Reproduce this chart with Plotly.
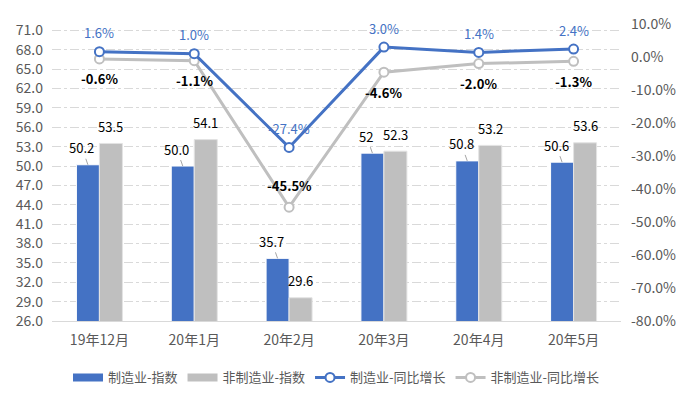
import plotly.graph_objects as go

categories = ["19年12月", "20年1月", "20年2月", "20年3月", "20年4月", "20年5月"]
mfg_index = [50.2, 50.0, 35.7, 52.0, 50.8, 50.6]
mfg_index_labels = ["50.2", "50.0", "35.7", "52", "50.8", "50.6"]
nonmfg_index = [53.5, 54.1, 29.6, 52.3, 53.2, 53.6]
mfg_yoy = [1.6, 1.0, -27.4, 3.0, 1.4, 2.4]
nonmfg_yoy = [-0.6, -1.1, -45.5, -4.6, -2.0, -1.3]
left_ticks = [26 + 3 * i for i in range(16)]
right_ticks = [-80 + 10 * i for i in range(10)]

BLUE = "#4472C4"
GRAY = "#BFBFBF"
FONT = "Noto Sans CJK SC"
TICK = "#595959"
FS = 13
TFS = 14

fig = go.Figure()
fig.add_trace(go.Bar(x=categories, y=mfg_index, name="制造业-指数", showlegend=False,
                     marker=dict(color=BLUE, line=dict(color="#FFFFFF", width=1))))
fig.add_trace(go.Bar(x=categories, y=nonmfg_index, name="非制造业-指数", showlegend=False,
                     marker=dict(color=GRAY, line=dict(color="#E3E3E3", width=1))))
fig.add_trace(go.Scatter(x=categories, y=nonmfg_yoy, name="非制造业-同比增长", yaxis="y2",
                         mode="lines+markers", line=dict(color=GRAY, width=3),
                         marker=dict(size=9, color="white", line=dict(color=GRAY, width=2)),
                         showlegend=False))
fig.add_trace(go.Scatter(x=categories, y=mfg_yoy, name="制造业-同比增长", yaxis="y2",
                         mode="lines+markers", line=dict(color=BLUE, width=3),
                         marker=dict(size=9, color="white", line=dict(color=BLUE, width=2)),
                         showlegend=False))

# legend entries (in reference order)
fig.add_trace(go.Scatter(x=[None], y=[None], name="制造业-指数", mode="lines",
                         line=dict(color=BLUE, width=8)))
fig.add_trace(go.Scatter(x=[None], y=[None], name="非制造业-指数", mode="lines",
                         line=dict(color=GRAY, width=8)))
fig.add_trace(go.Scatter(x=[None], y=[None], name="制造业-同比增长", yaxis="y2",
                         mode="lines+markers", line=dict(color=BLUE, width=3),
                         marker=dict(size=9, color="white", line=dict(color=BLUE, width=2))))
fig.add_trace(go.Scatter(x=[None], y=[None], name="非制造业-同比增长", yaxis="y2",
                         mode="lines+markers", line=dict(color=GRAY, width=3),
                         marker=dict(size=9, color="white", line=dict(color=GRAY, width=2))))

ann = []
for c, v, t in zip(categories, mfg_index, mfg_index_labels):
    ann.append(dict(x=c, y=v, xref="x", yref="y", text=t, xshift=-11.5,
                    showarrow=True, arrowhead=0, arrowwidth=1, arrowcolor="#A6A6A6",
                    ax=-6, ay=-17, standoff=0,
                    font=dict(family=FONT, size=FS, color="#000000")))
for c, v in zip(categories, nonmfg_index):
    ann.append(dict(x=c, y=v, xref="x", yref="y", text=f"{v:.1f}", xshift=11.5,
                    yshift=17, showarrow=False,
                    font=dict(family=FONT, size=FS, color="#000000")))
for c, v in zip(categories, mfg_yoy):
    ann.append(dict(x=c, y=v, xref="x", yref="y2", text=f"{v:.1f}%", yshift=19,
                    showarrow=False, font=dict(family=FONT, size=FS, color=BLUE)))
for c, v in zip(categories, nonmfg_yoy):
    sh = 22 if v < -30 else -20
    ann.append(dict(x=c, y=v, xref="x", yref="y2", text=f"<b>{v:.1f}%</b>", yshift=sh,
                    showarrow=False, font=dict(family=FONT, size=FS, color="#000000")))

# page body has an 8px margin, so the figure is sized to fit the 690x395 window
fig.update_layout(
    width=682, height=387,
    margin=dict(l=44, r=69, t=16, b=74, autoexpand=False),
    paper_bgcolor="white", plot_bgcolor="white",
    barmode="group", bargap=0.515, bargroupgap=0,
    font=dict(family=FONT, size=FS, color=TICK),
    xaxis=dict(type="category", showgrid=False, showline=True, linecolor="#D9D9D9",
               linewidth=1, ticks="", automargin=False, ticklabelstandoff=6,
               tickfont=dict(size=TFS, color=TICK)),
    yaxis=dict(range=[26, 72], tickvals=left_ticks,
               ticktext=[f"{t:.1f}" for t in left_ticks],
               showgrid=True, gridcolor="#D9D9D9", griddash="dashdot", gridwidth=1,
               zeroline=False, showline=False, automargin=False, ticklabelstandoff=8,
               tickfont=dict(size=TFS, color=TICK)),
    yaxis2=dict(range=[-80, 10], tickvals=right_ticks,
                ticktext=[f"{t:.1f}%" for t in right_ticks],
                overlaying="y", side="right", showgrid=False, zeroline=False,
                automargin=False, ticklabelstandoff=9,
                tickfont=dict(size=TFS, color=TICK)),
    legend=dict(orientation="h", x=0.5, xanchor="center", y=-0.19, yanchor="middle",
                font=dict(size=FS, color=TICK), traceorder="normal",
                itemwidth=30, tracegroupgap=0),
    annotations=ann,
    showlegend=True,
)

fig.write_html("out.html")
